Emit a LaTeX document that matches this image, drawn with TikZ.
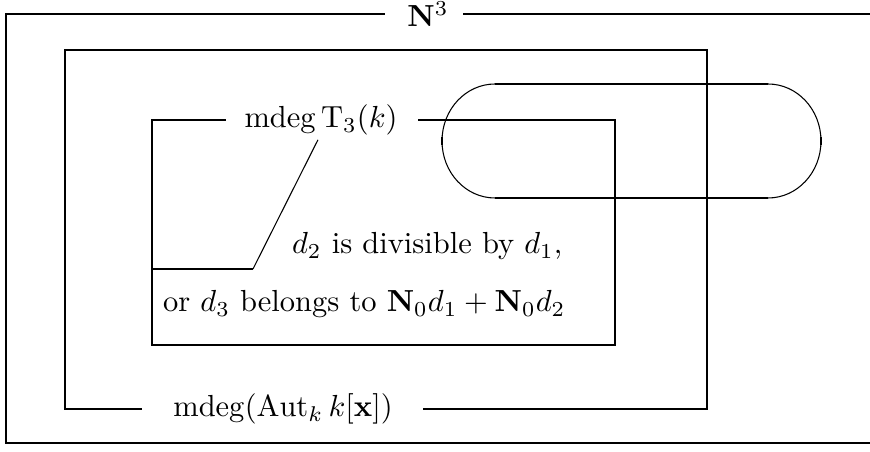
\documentclass[tikz,border=0pt]{standalone}
\usepackage{amsmath,amssymb}
\usepackage{xcolor}
\usetikzlibrary{shapes,arrows,positioning}
\tikzset{
  frame/.style={line width=0.85pt},
  thinline/.style={line width=0.35pt},
  txt/.style={inner sep=0pt},
}

\begin{document}
\begin{tikzpicture}[x=0.328pt,y=-0.328pt]
\useasboundingbox (0,0) rectangle (870,452);
% Labels of the three regions
\node[txt] (n3) at (428,14) {$\mathbf{N}^3$};
\node[txt] (aut) at (283,409) {$\operatorname{mdeg}(\operatorname{Aut}_k k[\mathbf{x}])$};
\node[txt] (t3) at (321,120) {$\operatorname{mdeg}\mathrm{T}_3(k)$};
\node[txt,anchor=east] (cond1) at (563,246) {$d_2$ is divisible by $d_1$,};
\node[txt,anchor=east] (cond2) at (566,304) {or $d_3$ belongs to $\mathbf{N}_0d_1+\mathbf{N}_0d_2$};
% Outer frame
\draw[frame] ([xshift=-7.2pt]n3.west) -- (6,14) -- (6,443) -- (870,443);
\draw[frame] ([xshift=4.6pt]n3.east) -- (870,14);
% Middle frame
\draw[frame] ([xshift=-10.2pt]aut.west) -- (65,409) -- (65,50) -- (707,50) -- (707,409) -- ([xshift=9.8pt]aut.east);
% Inner frame
\draw[frame] ([xshift=-5.9pt]t3.west) -- (152,120) -- (152,345) -- (615,345) -- (615,120) -- ([xshift=6.6pt]t3.east);
\coordinate (cut) at (253,269);
\draw[frame] (152,269) -- (cut);
\draw[thinline] (cut) -- ([xshift=-1pt,yshift=-1.3pt]t3.south);
% Stadium
\draw[frame] (495,84) -- (768,84);
\draw[frame] (495,198) -- (768,198);
\draw[thinline] (495,84) arc[start angle=-90, end angle=-270, x radius=53, y radius=57];
\draw[thinline] (768,84) arc[start angle=-90, end angle=90, x radius=53, y radius=57];
\draw[frame] (442,137) -- (442,145);
\draw[frame] (821,137) -- (821,145);
\end{tikzpicture}
\end{document}
